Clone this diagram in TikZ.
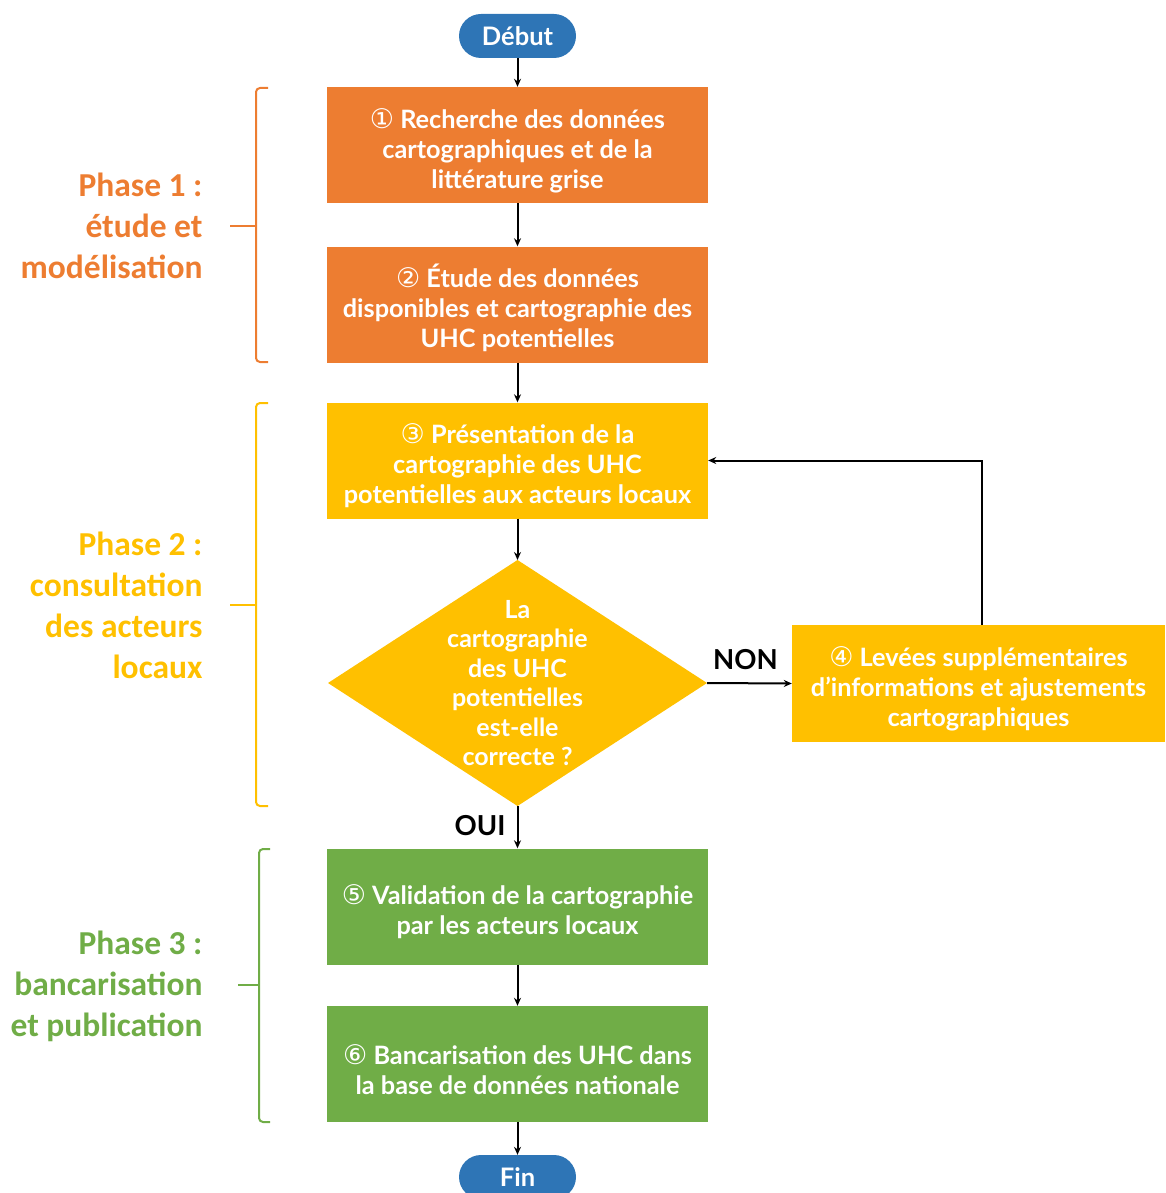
\documentclass[tikz,border=0pt]{standalone}
\usepackage{fontspec}
\setmainfont{Lato}
\newfontfamily\phasefont{Carlito}
\newfontfamily\circfont{DejaVu Sans}
\usetikzlibrary{arrows.meta}
\definecolor{cblue}{HTML}{2E75B6}
\definecolor{corange}{HTML}{ED7D31}
\definecolor{cyellow}{HTML}{FFC000}
\definecolor{cgreen}{HTML}{70AD47}
\newcommand{\cnum}[1]{\rule{0pt}{31pt}{\circfont\mdseries\fontsize{27}{30}\selectfont #1}}
\begin{document}
\begin{tikzpicture}[x=1pt,y=-1pt,
  boxst/.style={minimum width=381pt, minimum height=116pt, inner sep=0pt, text=white, align=center,
    font=\bfseries\fontsize{25.3}{30}\selectfont},
  pill/.style={fill=cblue, rounded corners=22pt, minimum width=117pt, minimum height=44pt, inner sep=0pt,
    text=white, font=\bfseries\fontsize{25.5}{28}\selectfont},
  arr/.style={line width=2pt, -{Stealth[length=8pt,width=7pt]}},
  brace/.style={line width=2pt, rounded corners=4pt},
  phase/.style={anchor=east, align=right, font=\phasefont\bfseries\fontsize{33.5}{41}\selectfont},
  lbl/.style={font=\bfseries\fontsize{27.5}{30}\selectfont, text=black}
]
\useasboundingbox (0,0) rectangle (1165,1193);

% start / end
\node[pill] (start) at (517.5,36) {Début};
\node[pill] (end) at (517.5,1177) {Fin};

% boxes
\node[boxst, fill=corange] (b1) at (517.5,145) {\cnum{①} Recherche des données\\cartographiques et de la\\littérature grise};
\node[boxst, fill=corange] (b2) at (517.5,304.5) {\cnum{②} Étude des données\\disponibles et cartographie des\\UHC potentielles};
\node[boxst, fill=cyellow] (b3) at (517.5,460.5) {\cnum{③} Présentation de la\\cartographie des UHC\\potentielles aux acteurs locaux};
\node[boxst, fill=cyellow, minimum width=373pt, minimum height=117pt] (b4) at (978.5,683.5) {\cnum{④} Levées supplémentaires\\d’informations et ajustements\\cartographiques};
\node[boxst, fill=cgreen] (b5) at (517.5,906.5) {\cnum{⑤} Validation de la cartographie\\par les acteurs locaux};
\node[boxst, fill=cgreen] (b6) at (517.5,1064) {\cnum{⑥} Bancarisation des UHC dans\\la base de données nationale};

% decision diamond
\coordinate (dtop) at (517.5,560);
\coordinate (dbot) at (517.5,806);
\coordinate (dleft) at (328,683);
\coordinate (dright) at (707,683);
\fill[cyellow] (dtop) -- (dright) -- (dbot) -- (dleft) -- cycle;
\node[text=white, align=center, inner sep=0pt, font=\bfseries\fontsize{25}{29.5}\selectfont] (dec) at (517.5,683) {La\\cartographie\\des UHC\\potentielles\\est-elle\\correcte ?};

% connectors
\draw[arr] (start) -- (b1);
\draw[arr] (b1) -- (b2);
\draw[arr] (b2) -- (b3);
\draw[arr] (b3) -- (dtop);
\draw[arr] (dbot) -- (b5);
\draw[arr] (dright) -- (b4.west);
\draw[arr] ([xshift=3.5pt]b4.north) |- (b3.east);
\draw[arr] (b5) -- (b6);
\draw[arr] (b6) -- (end);

\node[lbl] (non) at (745.5,660) {NON};
\node[lbl] (oui) at (480,826) {OUI};

% phase braces
\draw[brace, corange] (268,88) -- (256,88) -- (256,362) -- (268,362);
\draw[line width=2pt, corange] (256,226) -- (230,226);
\draw[brace, cyellow] (268,403) -- (256,403) -- (256,806) -- (268,806);
\draw[line width=2pt, cyellow] (256,605) -- (230,605);
\draw[brace, cgreen] (270,849) -- (259,849) -- (259,1122) -- (270,1122);
\draw[line width=2pt, cgreen] (259,985) -- (238,985);

\node[phase, text=corange] (p1) at (206,226) {Phase 1 :\\étude et\\modélisation};
\node[phase, text=cyellow] (p2) at (206,605) {Phase 2 :\\consultation\\des acteurs\\locaux};
\node[phase, text=cgreen] (p3) at (206,986) {Phase 3 :\\bancarisation\\et publication};
\end{tikzpicture}
\end{document}
